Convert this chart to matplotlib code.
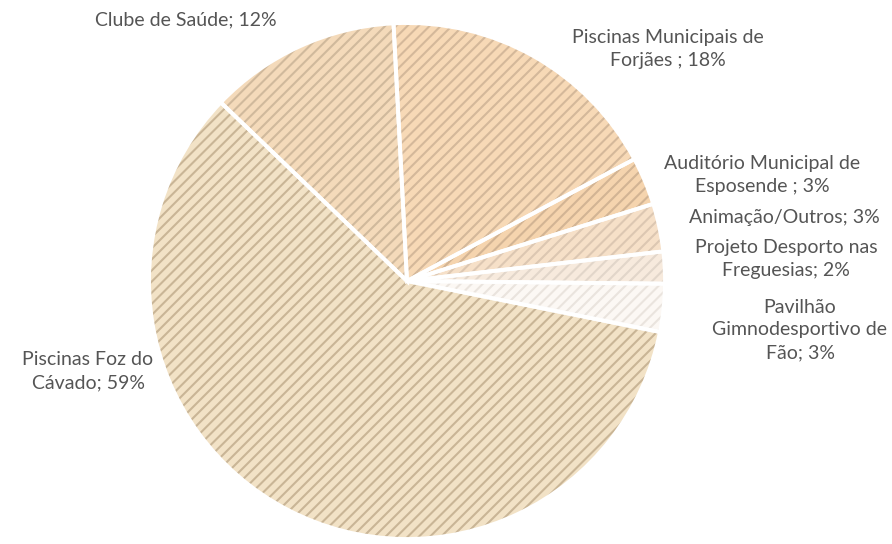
import matplotlib
matplotlib.use("Agg")
import matplotlib.pyplot as plt

categories = ["Piscinas Municipais de\nForjães ; 18%",
              "Auditório Municipal de\nEsposende ; 3%",
              "Animação/Outros; 3%",
              "Projeto Desporto nas\nFreguesias; 2%",
              "Pavilhão\nGimnodesportivo de\nFão; 3%",
              "Piscinas Foz do\nCávado; 59%",
              "Clube de Saúde; 12%"]
values = [18, 3, 3, 2, 3, 59, 12]

base_colors = ["#F7D9B6", "#F5D4AE", "#F6E0C8", "#F7EADD", "#FCF8F4", "#F2E2C6", "#F4DABA"]
stripe_colors = ["#D4B89A", "#D2B494", "#DCC7B2", "#E2D6CA", "#EAE4DE", "#C9B596", "#D0B99C"]

W, H = 892, 544
CX, CY, R = 407, 281, 258

plt.rcParams['hatch.linewidth'] = 1.5
fig = plt.figure(figsize=(W / 100, H / 100), dpi=100)
ax = fig.add_axes([0, 0, 1, 1])
ax.axis("off")

# hatched fill
wedges, _ = ax.pie(values, startangle=93, counterclock=False, colors=base_colors,
                   wedgeprops=dict(linewidth=0, hatch="///"))
for w, sc in zip(wedges, stripe_colors):
    w.set_edgecolor(sc)
    w.set_linewidth(0)
# white separators
ax.pie(values, startangle=93, counterclock=False, colors=["none"] * len(values),
       wedgeprops=dict(linewidth=2.8, edgecolor="white", fill=False))

ax.set_xlim(-CX / R, (W - CX) / R)
ax.set_ylim(-(H - CY) / R, CY / R)
ax.set_aspect("auto")


def px(x, y):
    return (x - CX) / R, (CY - y) / R


label_pos = [(668, 49), (762, 175), (784, 218), (786, 259), (800, 330), (88, 371), (186, 20)]
for text, (x, y) in zip(categories, label_pos):
    ax.text(*px(x, y), text, ha="center", va="center", fontsize=14,
            family="Lato", color="#555555", linespacing=1.42)

fig.savefig("out.png", dpi=100)
